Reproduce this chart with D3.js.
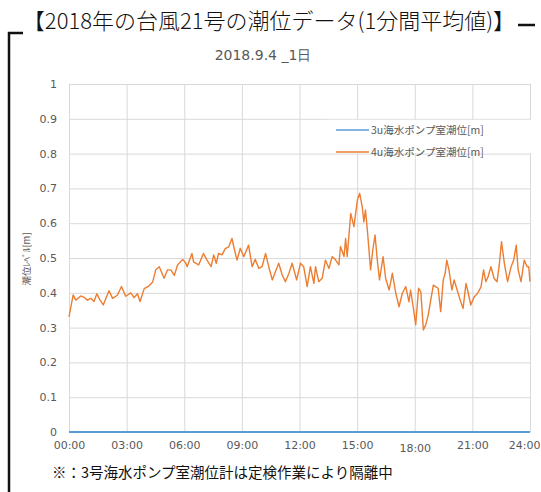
<!DOCTYPE html>
<html>
<head>
<meta charset="utf-8">
<script src="https://cdn.jsdelivr.net/npm/d3@7"></script>
<style>
  html, body { margin: 0; padding: 0; background: #fff; }
  svg { display: block; }
</style>
</head>
<body>
<div id="chart"></div>
<script>
// minutes since 00:00 and level [m]
const pump4Minutes = [0,13,21,37,47,57,68,78,87,97,107,125,136,151,164,177,193,203,214,222,
  235,250,261,271,282,297,308,318,329,339,355,365,369,384,389,405,420,431,444,452,
  460,467,478,488,499,509,517,525,535,546,561,572,582,593,603,614,624,635,645,655,
  666,676,687,697,711,723,733,744,754,765,770,780,791,801,812,822,833,843,848,859,
  864,869,880,890,901,908,916,921,926,932,937,942,949,956,963,970,981,989,1000,1010,
  1021,1031,1041,1052,1062,1067,1075,1083,1092,1099,1107,1114,1122,1130,1138,1146,1153,1161,1169,1175,
  1180,1187,1196,1203,1214,1222,1231,1240,1245,1255,1266,1276,1287,1295,1302,1309,1318,1328,1337,1344,
  1351,1360,1370,1381,1389,1397,1403,1412,1422,1431,1436,1440];
const pump4Level = [0.331,0.394,0.379,0.391,0.387,0.379,0.384,0.375,0.397,0.379,
  0.365,0.406,0.384,0.393,0.418,0.39,0.40,0.386,0.397,0.375,
  0.412,0.42,0.43,0.466,0.475,0.442,0.466,0.466,0.45,0.48,
  0.496,0.485,0.475,0.513,0.489,0.48,0.513,0.494,0.475,0.509,
  0.485,0.513,0.509,0.527,0.532,0.556,0.523,0.494,0.528,0.504,
  0.537,0.475,0.496,0.47,0.475,0.513,0.475,0.437,0.461,0.485,
  0.451,0.432,0.456,0.485,0.437,0.485,0.475,0.418,0.475,0.427,
  0.475,0.432,0.442,0.494,0.47,0.504,0.494,0.48,0.533,0.504,
  0.556,0.504,0.628,0.59,0.667,0.686,0.647,0.604,0.638,0.58,
  0.523,0.466,0.523,0.566,0.494,0.437,0.504,0.442,0.408,0.456,
  0.398,0.36,0.398,0.418,0.374,0.408,0.36,0.308,0.413,0.403,
  0.293,0.307,0.336,0.379,0.422,0.417,0.413,0.346,0.437,0.456,
  0.494,0.466,0.408,0.437,0.403,0.379,0.355,0.427,0.408,0.365,
  0.389,0.398,0.417,0.466,0.432,0.446,0.475,0.441,0.432,0.48,
  0.547,0.484,0.432,0.475,0.494,0.537,0.466,0.432,0.494,0.475,
  0.475,0.432];

// No.3 gauge isolated for inspection -> flat zero all day
const pump3Minutes = [0, 1440];
const pump3Level = [0, 0];

const xTickMinutes = [0, 180, 360, 540, 720, 900, 1080, 1260, 1440];
const xTickLabels = ['00:00','03:00','06:00','09:00','12:00','15:00','18:00','21:00','24:00'];
const yTicks = [0, 0.1, 0.2, 0.3, 0.4, 0.5, 0.6, 0.7, 0.8, 0.9, 1];

const seriesNames = ['3u海水ポンプ室潮位[m]', '4u海水ポンプ室潮位[m]'];
const seriesColors = ['#5B9BD5', '#ED7D31'];

const W = 541, H = 492;
const plot = { left: 69, right: 530, top: 84, bottom: 432 };
const cjk = '"Noto Sans CJK JP", "Noto Sans", sans-serif';
const latin = '"DejaVu Sans", Verdana, sans-serif';

const svg = d3.select('#chart').append('svg')
  .attr('width', W).attr('height', H);

const x = d3.scaleLinear().domain([0, 1440]).range([plot.left, plot.right]);
const y = d3.scaleLinear().domain([0, 1]).range([plot.bottom, plot.top]);

// frame decoration (left bracket + right dash)
svg.append('path')
  .attr('d', `M9,${H} V33 H23`)
  .attr('fill', 'none').attr('stroke', '#111').attr('stroke-width', 2.5);
svg.append('line')
  .attr('x1', 518).attr('x2', 535).attr('y1', 25).attr('y2', 25)
  .attr('stroke', '#111').attr('stroke-width', 2.5);

// titles
svg.append('text')
  .attr('x', 269).attr('y', 29)
  .attr('text-anchor', 'middle')
  .style('font-family', cjk).style('font-size', '22px').style('font-weight', 300)
  .attr('fill', '#111')
  .text('【2018年の台風21号の潮位データ(1分間平均値)】');

svg.append('text')
  .attr('x', 263).attr('y', 60)
  .attr('text-anchor', 'middle')
  .style('font-family', latin).style('font-size', '14px').attr('fill', '#595959')
  .text('2018.9.4 _1日');

// gridlines
svg.append('g')
  .attr('transform', `translate(${plot.left},0)`)
  .call(d3.axisLeft(y).tickValues(yTicks).tickSize(-(plot.right - plot.left)).tickFormat(''))
  .call(g => g.select('.domain').remove())
  .selectAll('line').attr('stroke', '#d9d9d9');

svg.append('g')
  .attr('transform', `translate(0,${plot.top})`)
  .call(d3.axisBottom(x).tickValues(xTickMinutes).tickSize(plot.bottom - plot.top).tickFormat(''))
  .call(g => g.select('.domain').remove())
  .selectAll('line').attr('stroke', '#d9d9d9');

// tick labels
svg.append('g')
  .attr('transform', `translate(${plot.left},0)`)
  .call(d3.axisLeft(y).tickValues(yTicks).tickSize(0).tickPadding(12).tickFormat(d3.format('~g')))
  .call(g => g.select('.domain').remove())
  .selectAll('text')
    .style('font-family', latin).style('font-size', '11px').attr('fill', '#595959');

const xLabels = svg.append('g')
  .attr('transform', `translate(0,${plot.bottom})`)
  .call(d3.axisBottom(x).tickValues(xTickMinutes).tickSize(0).tickPadding(9)
    .tickFormat((d, i) => xTickLabels[i]))
  .call(g => g.select('.domain').remove());
xLabels.selectAll('text')
  .style('font-family', latin).style('font-size', '11px').attr('fill', '#595959')
  .attr('dy', (d, i) => i === 6 ? '1.0em' : '0.71em');
// last label pulled inside the page, as the original does
xLabels.selectAll('.tick').filter((d, i) => i === xTickMinutes.length - 1)
  .select('text').attr('text-anchor', 'end').attr('x', W - plot.right - 1);

// y axis title
svg.append('text')
  .attr('transform', `translate(30,259) rotate(-90)`)
  .attr('text-anchor', 'middle')
  .style('font-family', cjk).style('font-size', '9.5px').attr('fill', '#595959')
  .text('潮位ﾚﾍﾞﾙ[m]');

// legend (white box hides the vertical gridlines)
svg.append('rect')
  .attr('x', 326).attr('y', y(0.9) + 1).attr('width', plot.right - 326 + 2)
  .attr('height', y(0.8) - y(0.9) - 1.5).attr('fill', '#fff');

const legend = svg.append('g');
seriesNames.forEach((name, i) => {
  const ly = 130 + i * 22;
  legend.append('line')
    .attr('x1', 336).attr('x2', 369).attr('y1', ly).attr('y2', ly)
    .attr('stroke', seriesColors[i]).attr('stroke-width', 1.5);
  legend.append('text')
    .attr('x', 371).attr('y', ly).attr('dy', '0.35em')
    .style('font-family', cjk).style('font-size', '10.5px').attr('fill', '#595959')
    .text(name);
});

// series
const line = d3.line().x(d => x(d[0])).y(d => y(d[1]));

svg.append('path')
  .datum(d3.zip(pump4Minutes, pump4Level))
  .attr('d', line)
  .attr('fill', 'none').attr('stroke', seriesColors[1])
  .attr('stroke-width', 1.4).attr('stroke-linejoin', 'round');

svg.append('path')
  .datum(d3.zip(pump3Minutes, pump3Level))
  .attr('d', line)
  .attr('fill', 'none').attr('stroke', seriesColors[0]).attr('stroke-width', 2);

// footnote
svg.append('text')
  .attr('x', 52).attr('y', 478)
  .style('font-family', cjk).style('font-size', '14.5px').attr('fill', '#111')
  .text('※：3号海水ポンプ室潮位計は定検作業により隔離中');
</script>
</body>
</html>
